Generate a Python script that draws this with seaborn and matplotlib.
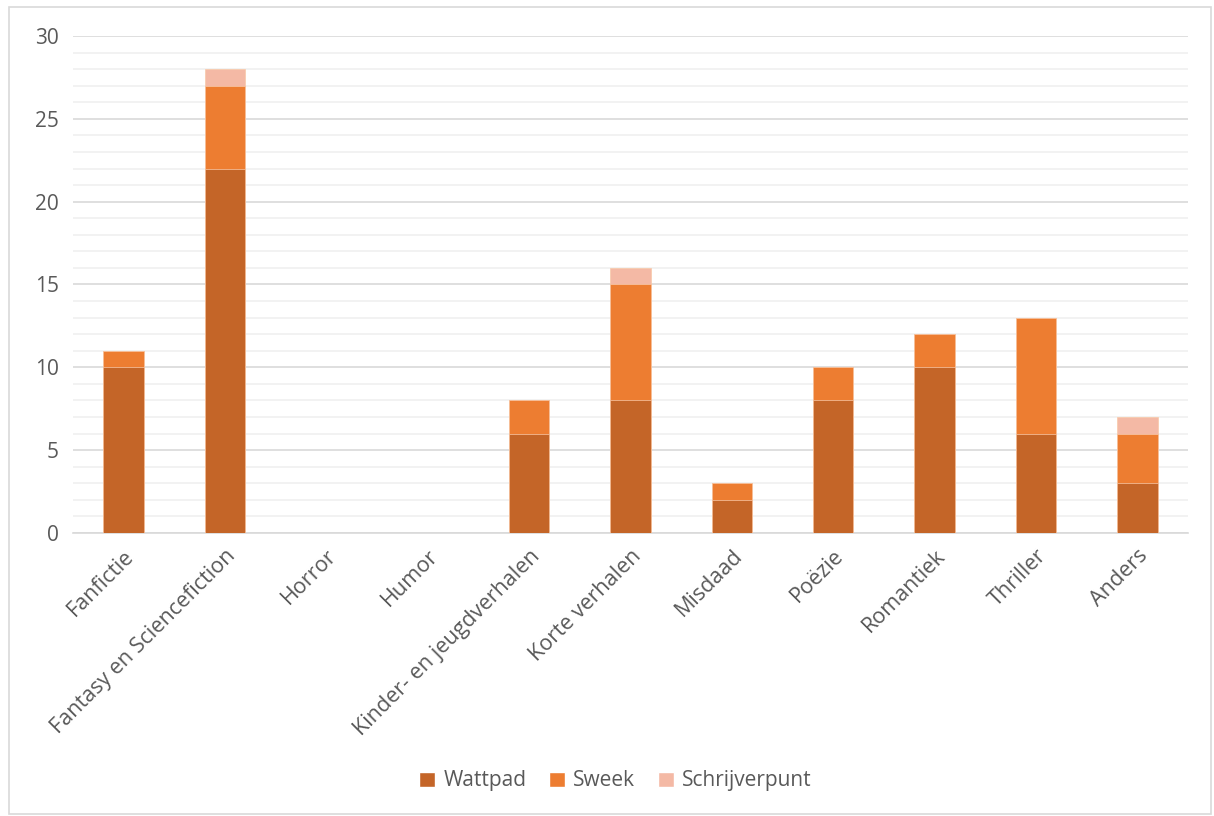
import numpy as np
import pandas as pd
import matplotlib
matplotlib.use("Agg")
import matplotlib.pyplot as plt
import seaborn as sns
from matplotlib.patches import Rectangle, Patch
from matplotlib.ticker import MultipleLocator

# data
genres = ["Fanfictie", "Fantasy en Sciencefiction", "Horror", "Humor",
          "Kinder- en jeugdverhalen", "Korte verhalen", "Misdaad", "Poëzie",
          "Romantiek", "Thriller", "Anders"]
wattpad = [10, 22, 0, 0, 6, 8, 2, 8, 10, 6, 3]
sweek = [1, 5, 0, 0, 2, 7, 1, 2, 2, 7, 3]
schrijverpunt = [0, 1, 0, 0, 0, 1, 0, 0, 0, 0, 1]
series = ["Wattpad", "Sweek", "Schrijverpunt"]
colors = ["#C46528", "#ED7D31", "#F4B9A5"]

df = pd.DataFrame({"genre": genres, "Wattpad": wattpad,
                   "Sweek": sweek, "Schrijverpunt": schrijverpunt})
df["lvl2"] = df["Wattpad"] + df["Sweek"]
df["lvl3"] = df["lvl2"] + df["Schrijverpunt"]

sns.set_theme(style="white")
plt.rcParams["font.family"] = ["Open Sans", "DejaVu Sans"]
txt = "#595959"

fig = plt.figure(figsize=(12.14, 8.16), dpi=100)
ax = fig.add_axes([0.060, 0.3468, 0.9186, 0.6091])

# stacked bars by overlaying cumulative totals
for col, c in zip(["lvl3", "lvl2", "Wattpad"], colors[::-1]):
    sns.barplot(data=df, x="genre", y=col, color=c, width=0.4, saturation=1,
                edgecolor="#F8C9A8", linewidth=0.5, ax=ax, zorder=3)

ax.set_ylim(0, 30)
ax.set_xlim(-0.5, len(genres) - 0.5)
ax.yaxis.set_major_locator(MultipleLocator(5))
ax.yaxis.set_minor_locator(MultipleLocator(1))
ax.grid(axis="y", which="major", color="#D9D9D9", linewidth=1.2, zorder=0)
ax.grid(axis="y", which="minor", color="#F0F0F0", linewidth=1.2, zorder=0)
ax.set_axisbelow(True)
for s in ["top", "right", "left"]:
    ax.spines[s].set_visible(False)
ax.spines["bottom"].set_color("#D9D9D9")
ax.spines["bottom"].set_linewidth(1.2)
ax.tick_params(axis="y", which="both", length=0, labelsize=15, colors=txt, pad=10)
ax.tick_params(axis="x", which="both", length=0, labelsize=15.5, colors=txt, pad=9)
ax.set_xlabel("")
ax.set_ylabel("")
plt.setp(ax.get_xticklabels(), rotation=45, ha="right", rotation_mode="anchor")

handles = [Patch(facecolor=c, label=s) for s, c in zip(series, colors)]
fig.legend(handles=handles, loc="center", bbox_to_anchor=(0.507, 0.043), ncol=3,
           frameon=False, fontsize=15, handlelength=0.75, handleheight=0.75,
           handletextpad=0.4, columnspacing=1.1, labelcolor=txt)

fig.patches.append(Rectangle((0.0074, 0.003), 0.99, 0.989, transform=fig.transFigure,
                             fill=False, edgecolor="#D9D9D9", linewidth=1.2))

fig.savefig("out.png", dpi=100)
